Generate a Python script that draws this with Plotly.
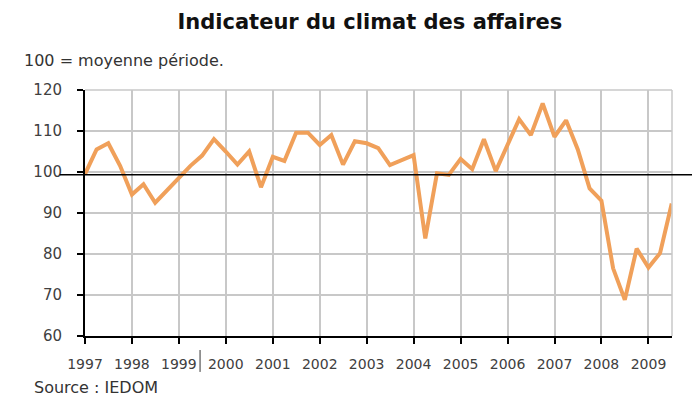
import pandas as pd
import plotly.graph_objects as go

# Quarterly periods 1997Q1 .. 2009Q3
quarters = [f"{y}Q{q}" for y in range(1997, 2010) for q in range(1, 5)][:51]
values = [
    99.5, 105.5, 107.0, 101.5,   # 1997
    94.5, 97.0, 92.5, 95.5,      # 1998
    98.5, 101.5, 104.0, 108.0,   # 1999
    105.0, 101.8, 105.0, 96.3,   # 2000
    103.7, 102.7, 109.6, 109.6,  # 2001
    106.6, 109.0, 101.8, 107.5,  # 2002
    107.0, 105.8, 101.7, 103.0,  # 2003
    104.1, 83.8, 99.7, 99.3,     # 2004
    103.2, 100.7, 108.0, 100.2,  # 2005
    106.5, 112.9, 109.0, 116.7,  # 2006
    108.6, 112.6, 105.5, 96.0,   # 2007
    93.0, 76.5, 68.8, 81.3,      # 2008
    76.7, 80.2, 92.3,            # 2009
]
year_ticks = list(range(1997, 2010))
y_ticks = [60, 70, 80, 90, 100, 110, 120]
reference_level = 99.3

x = [pd.Period(q, freq="Q").start_time for q in quarters]

fig = go.Figure()
fig.add_trace(go.Scatter(
    x=x, y=values, mode="lines",
    line=dict(color="#F0A05A", width=4),
    hoverinfo="skip", showlegend=False,
))

fig.update_layout(
    width=700, height=413,
    margin=dict(l=77, r=36, t=82, b=85),
    paper_bgcolor="white", plot_bgcolor="white",
    font=dict(family="DejaVu Sans", size=14, color="#404040"),
    title=dict(
        text="<b>Indicateur du climat des affaires</b>",
        x=0.517, xanchor="center", y=0.966, yanchor="middle",
        font=dict(family="DejaVu Sans", size=21, color="#111111"),
    ),
    xaxis=dict(
        type="date",
        range=[pd.Timestamp("1997-01-01"), pd.Timestamp("2009-07-03")],
        tickvals=[pd.Timestamp(f"{y}-01-01") for y in year_ticks],
        ticktext=[str(y) for y in year_ticks],
        showgrid=True, gridcolor="#C8C8C8", gridwidth=1.5,
        showline=True, linecolor="black", linewidth=2,
        ticks="outside", ticklen=6, tickwidth=2, tickcolor="black",
        ticklabelstandoff=8,
        zeroline=False,
    ),
    yaxis=dict(
        range=[60, 120],
        tickvals=y_ticks,
        tickfont=dict(size=15),
        showgrid=True, gridcolor="#C8C8C8", gridwidth=1.5,
        showline=True, linecolor="black", linewidth=2,
        ticks="outside", ticklen=6, tickwidth=2, tickcolor="black",
        ticklabelstandoff=12,
        automargin=False,
        zeroline=False,
    ),
    annotations=[
        dict(text="100 = moyenne période.", xref="paper", yref="paper",
             x=-0.107, y=1.118, xanchor="left", yanchor="middle",
             showarrow=False, font=dict(size=16, color="#333333")),
        dict(text="Source : IEDOM", xref="paper", yref="paper",
             x=-0.09, y=-0.211, xanchor="left", yanchor="middle",
             showarrow=False, font=dict(size=16, color="#333333")),
    ],
    shapes=[
        # right frame border
        dict(type="line", xref="paper", yref="paper", x0=1, x1=1, y0=0, y1=1,
             line=dict(color="#C8C8C8", width=1.5)),
        # top frame border
        dict(type="line", xref="paper", yref="paper", x0=0, x1=1, y0=1, y1=1,
             line=dict(color="#C8C8C8", width=1.5)),
        # reference line at the period average
        dict(type="line", xref="paper", yref="y", x0=-0.043, x1=1.039,
             y0=reference_level, y1=reference_level,
             line=dict(color="black", width=1.5)),
        # small text-cursor bar after the 1999 label
        dict(type="line", xref="paper", yref="paper", x0=0.196, x1=0.196,
             y0=-0.057, y1=-0.146, line=dict(color="#333333", width=1)),
    ],
)

fig.write_html("out.html")
